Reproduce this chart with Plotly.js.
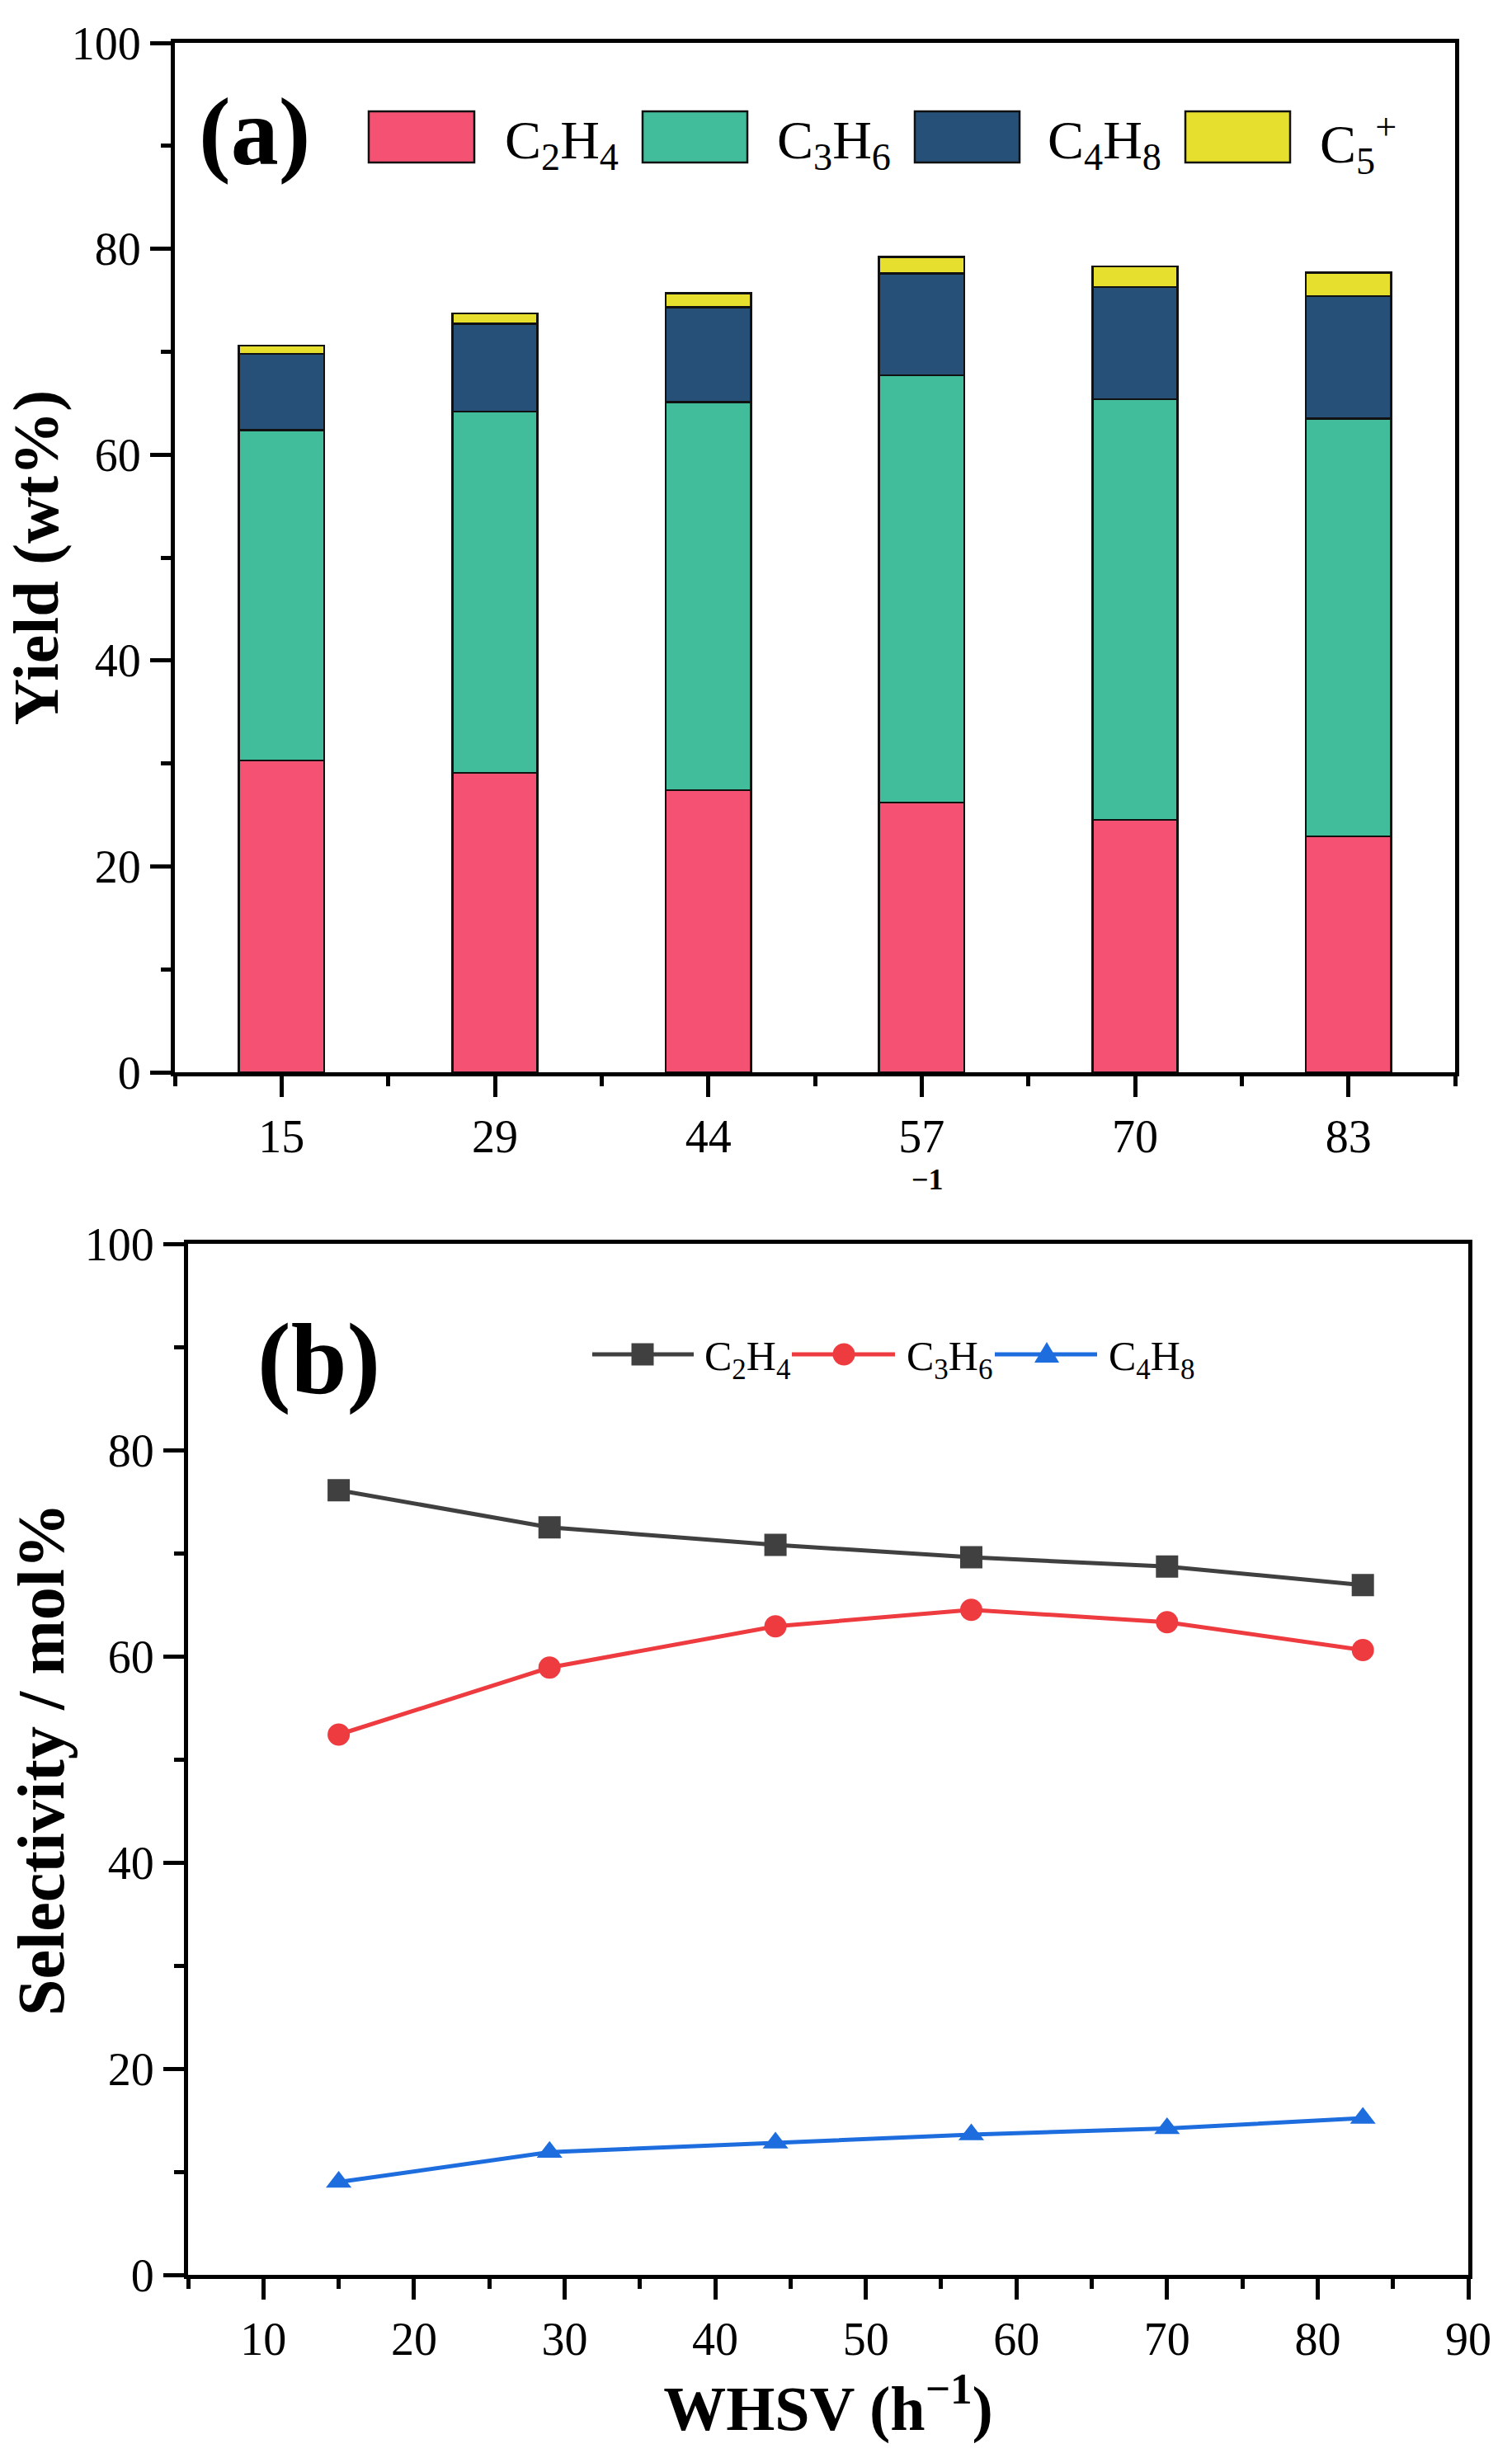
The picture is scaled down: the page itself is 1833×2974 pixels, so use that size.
<!DOCTYPE html>
<html>
<head>
<meta charset="utf-8">
<script src="https://cdn.plot.ly/plotly-3.0.1.min.js"></script>
<style>
html, body { margin: 0; padding: 0; background: #fff; }
#plot { width: 1833px; height: 2974px; }
</style>
</head>
<body>
<div id="plot"></div>
<script>
var whsv = [15, 29, 44, 57, 70, 83];
var whsvLabels = ['15', '29', '44', '57', '70', '83'];

// (a) yield, wt% - stacked pieces
var yieldC2H4 = [30.3, 29.1, 27.4, 26.2, 24.5, 22.9];
var yieldC3H6 = [32.1, 35.1, 37.7, 41.5, 40.9, 40.6];
var yieldC4H8 = [7.4, 8.5, 9.2, 9.9, 10.9, 11.9];
var yieldC5 = [0.8, 1.0, 1.4, 1.6, 2.0, 2.3];

// (b) selectivity, mol%
var selC2H4 = [76.1, 72.5, 70.8, 69.6, 68.7, 66.9];
var selC3H6 = [52.4, 58.9, 62.9, 64.5, 63.3, 60.6];
var selC4H8 = [9.0, 11.9, 12.8, 13.6, 14.2, 15.2];

var names = ['C<sub>2</sub>H<sub>4</sub>', 'C<sub>3</sub>H<sub>6</sub>', 'C<sub>4</sub>H<sub>8</sub>', 'C<sub>5</sub><sup>+</sup>'];
var barColors = ['#F55273', '#42BD9B', '#265078', '#E7DF2D'];
var lineColors = ['#404040', '#EE3B40', '#1E6DDF'];

var W = 1833, H = 2974;
function fx(p) { return p / W; }
function fy(p) { return 1 - p / H; }

var serif = 'Liberation Serif, Times New Roman, serif';
var idx = whsvLabels.map(function (s, i) { return i; });

var barSets = [yieldC2H4, yieldC3H6, yieldC4H8, yieldC5];
var traces = [];
for (var i = 0; i < barSets.length; i++) {
    traces.push({
        x: idx,
        y: barSets[i],
        name: names[i],
        type: 'bar',
        width: 0.4,
        marker: {color: barColors[i], line: {color: '#111', width: 2.5}},
        showlegend: false,
        xaxis: 'x',
        yaxis: 'y'
    });
}

var selSets = [selC2H4, selC3H6, selC4H8];
var symbols = ['square', 'circle', 'triangle-up'];
for (var j = 0; j < selSets.length; j++) {
    traces.push({
        x: whsv,
        y: selSets[j],
        name: names[j],
        type: 'scatter',
        mode: 'lines+markers',
        line: {color: lineColors[j], width: 5},
        marker: {symbol: symbols[j], size: 27, color: lineColors[j]},
        showlegend: false,
        xaxis: 'x2',
        yaxis: 'y2'
    });
}

function axisBase() {
    return {
        showline: true, linewidth: 5, linecolor: '#000', mirror: true,
        showgrid: false, zeroline: false,
        ticks: 'outside', ticklen: 25, tickwidth: 5, tickcolor: '#000',
        tickfont: {family: serif, size: 56, color: '#000'},
        automargin: false
    };
}

var xa = axisBase();
Object.assign(xa, {
    domain: [fx(212), fx(1764)], anchor: 'y', range: [-0.5, 5.5],
    tickmode: 'array', tickvals: idx, ticktext: whsvLabels,
    minor: {ticks: 'outside', ticklen: 12, tickwidth: 5, tickcolor: '#000', tick0: -0.5, dtick: 1, showgrid: false}
});
var ya = axisBase();
Object.assign(ya, {
    domain: [fy(1300), fy(52)], anchor: 'x', range: [0, 100], dtick: 20,
    minor: {ticks: 'outside', ticklen: 12, tickwidth: 5, tickcolor: '#000', dtick: 10, showgrid: false},
    title: {text: '<b>Yield (wt%)</b>', font: {family: serif, size: 78, color: '#000'}, standoff: 4}
});
var xb = axisBase();
Object.assign(xb, {
    domain: [fx(228), fx(1780)], anchor: 'y2', range: [5, 90], dtick: 10,
    minor: {ticks: 'outside', ticklen: 12, tickwidth: 5, tickcolor: '#000', tick0: 5, dtick: 5, showgrid: false},
    title: {text: '<b>WHSV (h<sup>−1</sup>)</b>', font: {family: serif, size: 76, color: '#000'}, standoff: 22}
});
var yb = axisBase();
Object.assign(yb, {
    domain: [fy(2758), fy(1508)], anchor: 'x2', range: [0, 100], dtick: 20,
    minor: {ticks: 'outside', ticklen: 12, tickwidth: 5, tickcolor: '#000', dtick: 10, showgrid: false},
    title: {text: '<b>Selectivity / mol%</b>', font: {family: serif, size: 80, color: '#000'}, standoff: 0}
});

// hand-drawn legends
var shapes = [];
var annotations = [];
var boxX = [[447, 575], [779, 906], [1109, 1236], [1437, 1564]];
var textXa = [610, 940, 1268, 1598];
for (var k = 0; k < 4; k++) {
    shapes.push({type: 'rect', xref: 'paper', yref: 'paper',
        x0: fx(boxX[k][0]), x1: fx(boxX[k][1]), y0: fy(197), y1: fy(135),
        fillcolor: barColors[k], line: {color: '#111', width: 2.5}});
    annotations.push({xref: 'paper', yref: 'paper', x: fx(textXa[k]), y: fy(174),
        xanchor: 'left', yanchor: 'middle', showarrow: false, text: names[k],
        font: {family: serif, size: 66, color: '#000'}});
}

var lineSeg = [[718, 841], [960, 1085], [1206, 1330]];
var mk = [779, 1023, 1269];
var textXb = [852, 1097, 1342];
var ly = 1642, r = 13.5;
for (var m = 0; m < 3; m++) {
    shapes.push({type: 'line', xref: 'paper', yref: 'paper',
        x0: fx(lineSeg[m][0]), x1: fx(lineSeg[m][1]), y0: fy(ly), y1: fy(ly),
        line: {color: lineColors[m], width: 5}});
    annotations.push({xref: 'paper', yref: 'paper', x: fx(textXb[m]), y: fy(ly + 6),
        xanchor: 'left', yanchor: 'middle', showarrow: false, text: names[m],
        font: {family: serif, size: 50, color: '#000'}});
}
shapes.push({type: 'rect', xref: 'paper', yref: 'paper',
    x0: fx(mk[0] - r), x1: fx(mk[0] + r), y0: fy(ly + r), y1: fy(ly - r),
    fillcolor: lineColors[0], line: {width: 0}});
shapes.push({type: 'circle', xref: 'paper', yref: 'paper',
    x0: fx(mk[1] - r), x1: fx(mk[1] + r), y0: fy(ly + r), y1: fy(ly - r),
    fillcolor: lineColors[1], line: {width: 0}});
shapes.push({type: 'path', xref: 'paper', yref: 'paper',
    path: 'M' + fx(mk[2] - 15) + ',' + fy(ly + 10) + ' L' + fx(mk[2] + 15) + ',' + fy(ly + 10) +
          ' L' + fx(mk[2]) + ',' + fy(ly - 15) + ' Z',
    fillcolor: lineColors[2], line: {width: 0}});

annotations.push({xref: 'paper', yref: 'paper', x: fx(308), y: fy(160), showarrow: false,
    xanchor: 'center', yanchor: 'middle',
    text: '<b>(a)</b>', font: {family: serif, size: 116, color: '#000'}});
annotations.push({xref: 'paper', yref: 'paper', x: fx(386), y: fy(1648), showarrow: false,
    xanchor: 'center', yanchor: 'middle',
    text: '<b>(b)</b>', font: {family: serif, size: 122, color: '#000'}});
// leftover superscript of panel (a)'s x title, the rest is hidden under panel (b)
annotations.push({xref: 'paper', yref: 'paper', x: fx(1124), y: fy(1430), showarrow: false,
    xanchor: 'center', yanchor: 'middle',
    text: '<b>−1</b>', font: {family: serif, size: 36, color: '#000'}});

var layout = {
    width: W, height: H,
    margin: {l: 0, r: 0, t: 0, b: 0},
    paper_bgcolor: '#fff', plot_bgcolor: '#fff',
    barmode: 'stack',
    showlegend: false,
    xaxis: xa, yaxis: ya, xaxis2: xb, yaxis2: yb,
    shapes: shapes,
    annotations: annotations
};

Plotly.newPlot('plot', traces, layout, {displayModeBar: false, staticPlot: true});
</script>
</body>
</html>
